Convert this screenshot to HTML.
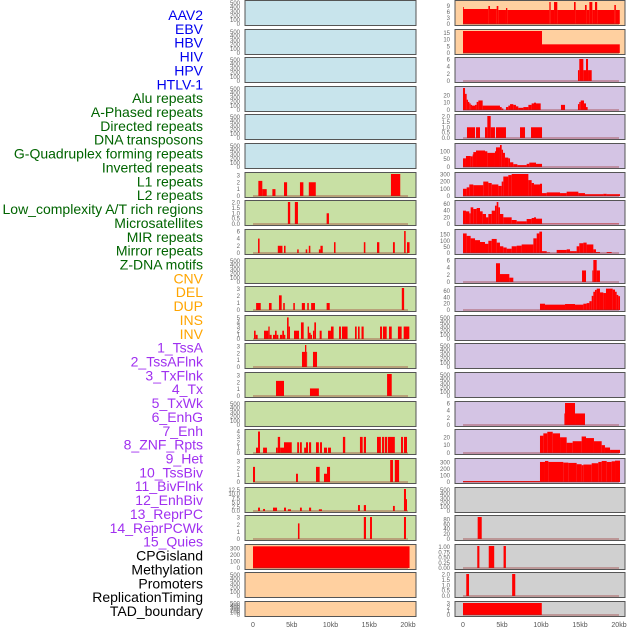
<!DOCTYPE html>
<html><head><meta charset="utf-8"><style>
body{margin:0;background:#fff;}
svg{display:block;font-family:"Liberation Sans",sans-serif;}
</style></head><body>
<svg id="c" width="630" height="630"></svg>
<script>
const labels = ["AAV2","EBV","HBV","HIV","HPV","HTLV-1","Alu repeats","A-Phased repeats","Directed repeats","DNA transposons","G-Quadruplex forming repeats","Inverted repeats","L1 repeats","L2 repeats","Low_complexity A/T rich regions","Microsatellites","MIR repeats","Mirror repeats","Z-DNA motifs","CNV","DEL","DUP","INS","INV","1_TssA","2_TssAFlnk","3_TxFlnk","4_Tx","5_TxWk","6_EnhG","7_Enh","8_ZNF_Rpts","9_Het","10_TssBiv","11_BivFlnk","12_EnhBiv","13_ReprPC","14_ReprPCWk","15_Quies","CPGisland","Methylation","Promoters","ReplicationTiming","TAD_boundary"];
const labelColors = ["#0000ee","#0000ee","#0000ee","#0000ee","#0000ee","#0000ee","#006400","#006400","#006400","#006400","#006400","#006400","#006400","#006400","#006400","#006400","#006400","#006400","#006400","#ffa500","#ffa500","#ffa500","#ffa500","#ffa500","#a030f0","#a030f0","#a030f0","#a030f0","#a030f0","#a030f0","#a030f0","#a030f0","#a030f0","#a030f0","#a030f0","#a030f0","#a030f0","#a030f0","#a030f0","#000","#000","#000","#000","#000"];
const xTicks = [0,5,10,15,20];
const xTickLabels = ["0","5kb","10kb","15kb","20kb"];
const EMPTY_T = [0,100,200,300,400,500];
const leftBg = ["b","b","b","b","b","b","g","g","g","g","g","g","g","g","g","g","g","g","g","o","o","o"];
const leftTicks = [EMPTY_T,EMPTY_T,EMPTY_T,EMPTY_T,EMPTY_T,EMPTY_T,[0,1,2,3],[0,0.5,1,1.5,2],[0,2,4,6],EMPTY_T,[0,1,2,3],[0,1,2,3,4,5],[0,1,2,3],[0,1,2,3],EMPTY_T,[0,1,2,3,4],[0,1,2,3],[0,2.5,5,7.5,10,12.5],[0,1,2,3],[0,100,200,300],EMPTY_T,EMPTY_T];
const leftMax = [520,520,520,520,520,520,3.2,2.05,6.1,520,3.15,5.3,3.2,3.2,520,4.1,3.2,13,3.1,340,520,520];
const leftSegs = [[],[],[],[],[],[],
[[0.69,1.2,2.2],[1.2,1.77,1],[2.5,2.9,1],[4.0,4.4,2],[6.06,6.5,2],[7.2,8.1,2],[17.8,19.0,3.2]],
[[4.5,4.8,2.05],[5.4,5.8,2.05],[9.5,9.8,1]],
[[0.65,0.85,4],[3.2,3.8,2],[4.0,4.2,2],[5.7,5.9,1],[6.8,7.0,1],[7.2,7.4,2],[8.5,8.7,1],[8.7,9.0,2],[10.45,10.65,3],[14.3,14.5,3],[16.0,16.3,3],[18.06,18.3,3],[19.5,19.7,6.1],[19.87,20.2,3]],
[],
[[0.4,1.0,1],[2.06,2.4,1],[3.35,3.7,2.1],[3.9,4.1,1],[5.2,5.4,1],[6.3,6.7,1],[7.0,7.2,1],[7.5,8.0,1],[9.5,9.9,1],[19.2,19.5,3.15]],
[[0.13,0.34,2],[0.34,0.6,1],[1.42,1.98,2],[1.98,2.15,3],[2.15,2.41,1],[2.58,2.84,1],[2.84,3.05,2],[3.05,3.27,1],[3.48,3.78,1],[3.78,4.0,2],[4.0,4.17,1],[4.39,4.6,5.2],[4.6,4.77,3],[5.29,5.94,2],[6.19,6.54,4],[7.05,7.23,3],[7.23,7.44,1.5],[7.44,7.61,1],[7.74,7.91,2],[7.91,8.13,4],[8.6,8.86,2],[9.68,10.06,2],[10.06,10.4,3],[11.1,11.35,3],[11.48,12.2,3],[13.16,13.38,3],[13.55,13.76,3],[14.0,14.28,3],[16.39,16.65,3],[16.77,17.25,3],[17.55,17.9,3],[18.7,19.18,3],[19.44,20.17,3]],
[[6.32,6.71,2.2],[6.71,6.88,3.2],[6.88,6.97,2.2],[7.74,8.26,2.2]],
[[2.97,4.0,2.2],[7.35,8.5,1.1],[17.3,17.9,3.2]],
[],
[[0.39,0.65,1],[0.65,0.9,4],[1.3,1.8,1],[2.97,3.2,1],[3.2,3.5,3],[3.5,4.0,1],[4.0,5.0,2],[5.7,5.94,2],[6.06,6.3,2],[6.6,6.84,1],[6.84,7.1,2],[7.23,7.5,2],[8.13,8.5,2],[8.65,8.9,2],[9.16,9.55,1],[9.68,10.06,1],[11.6,11.9,3],[13.8,14.15,3],[14.3,14.58,3],[16.0,16.5,3],[16.65,16.9,3],[17.0,17.3,3],[17.4,18.3,3],[19.1,19.35,3],[19.48,19.87,3]],
[[0,0.26,2.2],[5.55,5.8,1.2],[8.13,8.6,2.2],[9.16,9.55,1.2],[9.55,9.94,2.2],[17.7,18.06,3.2],[18.3,18.85,3.2]],
[[0.65,0.9,2],[1.3,1.55,1.2],[2.58,3.1,2],[4.0,4.26,2],[4.5,4.9,1],[6.06,6.3,2],[7.23,7.5,2],[8.5,8.9,1],[13.55,13.8,3.5],[14.3,14.58,3.5],[18.06,18.3,3],[19.48,19.74,13],[19.74,19.87,7]],
[[5.8,6.0,2.2],[14.3,14.58,3.1],[15.1,15.35,3.1],[19.48,19.74,3.1]],
[[0,20.2,335]],
[],[]];
const rightBg = ["o","o","p","p","p","p","p","p","p","p","p","p","p","p","p","p","p","k","k","k","k","k"];
const rightTicks = [[0,3,6,9],[0,5,10,15],[0,2,4,6],[0,10,20],[0,0.5,1,1.5,2],[0,50,100],[0,100,200,300],[0,20,40,60],[0,50,100,150],[0,2,4,6],[0,20,40,60],EMPTY_T,EMPTY_T,EMPTY_T,[0,2,4,6],[0,10,20],[0,100,200,300],EMPTY_T,[0,20,40,60,80],[0,0.25,0.5,0.75,1],[0,0.5,1,1.5,2],[0,1,2,3]];
const rightMax = [11,16.5,6.1,30,2.05,140,305,66,180,6.1,70,520,520,520,6.1,28,340,520,90,1.05,2.05,3.1];
const rightSegs = [
[[0,0.04,8.5],[0.04,3.25,7.5],[3.25,3.46,9],[3.46,4.32,7.5],[4.32,4.53,9],[4.53,5.51,7],[5.51,5.68,8],[5.68,11.07,7],[11.07,11.24,11],[11.24,11.67,7],[11.67,12.09,11],[12.09,14.23,7],[14.23,14.44,11],[14.44,15.64,7],[15.64,15.85,9.5],[15.85,16.2,7],[16.2,16.58,11],[16.58,16.92,7],[16.92,17.2,11],[17.2,19.4,7],[19.4,19.6,9.5],[19.6,20.1,7]],
[[0,10.13,16.5],[10.13,20.1,6.5]],
[[14.74,14.91,3],[14.91,15.43,6.1],[15.43,15.77,3],[15.77,16.03,6.1],[16.03,16.5,3]],
[[0,0.26,30],[0.26,0.47,22],[0.47,0.64,14],[0.64,0.81,11],[0.81,0.98,9],[0.98,1.15,7],[1.15,1.54,6],[1.54,1.75,7],[1.75,1.97,11],[1.97,2.52,13],[2.52,4.74,6],[4.74,4.96,4],[4.96,5.17,2],[5.51,5.81,4],[5.81,6.03,6],[6.03,6.45,8],[6.45,6.79,7],[6.79,7.09,5],[7.09,7.74,3],[7.74,8.38,4],[8.38,8.8,7],[8.8,9.1,9],[9.1,9.36,10],[9.36,9.96,9],[12.56,13.08,7],[14.74,14.91,8],[14.91,15.09,11],[15.09,15.51,13],[15.51,15.77,9],[15.77,15.98,4]],
[[0.51,1.54,1],[1.67,2.18,1],[2.82,3.12,1],[3.12,3.55,2.05],[3.55,4.1,1],[4.23,5.51,1],[7.31,7.95,1],[8.72,10.13,1]],
[[0,0.38,55],[0.38,0.98,70],[0.98,1.24,68],[1.24,1.32,80],[1.32,1.67,95],[1.67,2.82,105],[2.82,3.12,100],[3.12,4.1,90],[4.1,4.23,100],[4.23,4.74,125],[4.74,4.96,140],[4.96,5.13,110],[5.13,5.38,90],[5.38,5.81,60],[5.81,6.03,55],[6.03,6.45,30],[6.45,6.97,18],[6.97,8.16,12],[8.16,8.5,20],[8.5,9.36,28],[9.36,10.13,20]],
[[0,0.47,100],[0.47,0.81,120],[0.81,1.32,160],[1.32,2.6,150],[2.6,3.25,200],[3.25,3.68,180],[3.68,4.53,160],[4.53,4.96,140],[4.96,5.17,200],[5.17,5.81,270],[5.81,6.24,290],[6.24,8.38,305],[8.38,8.8,220],[8.8,9.1,180],[9.1,9.87,160],[9.87,10.13,170],[10.13,10.73,40],[10.73,12.44,50],[12.44,13.29,40],[13.29,14.79,60],[14.79,15.64,40],[15.64,17.99,25],[17.99,18.42,30],[18.42,20.13,25]],
[[0,0.38,40],[0.38,0.81,38],[0.81,0.98,32],[0.98,1.32,50],[1.32,1.75,45],[1.75,2.18,48],[2.18,2.52,38],[2.52,2.95,30],[2.95,3.25,20],[3.25,3.68,30],[3.68,4.1,40],[4.1,4.32,55],[4.32,4.53,66],[4.53,4.74,50],[4.74,5.17,30],[5.17,6.24,20],[6.24,6.88,12],[6.88,8.16,8],[8.16,8.8,15],[8.8,9.1,18],[9.1,9.36,20],[9.36,10.13,16],[10.13,20.0,1]],
[[0,0.47,160],[0.47,0.98,140],[0.98,1.54,120],[1.54,2.18,105],[2.18,2.82,90],[2.82,3.25,75],[3.25,3.68,100],[3.68,4.32,115],[4.32,4.74,85],[4.74,5.17,55],[5.17,5.6,45],[5.6,6.24,35],[6.24,6.88,55],[6.88,7.52,60],[7.52,9.02,70],[9.02,9.45,120],[9.45,9.79,160],[9.79,10.13,175],[10.13,10.73,15],[10.73,11.16,5],[12.01,13.29,25],[13.29,13.72,30],[13.72,14.57,15],[14.57,14.91,55],[14.91,15.43,80],[15.43,15.85,85],[15.85,16.71,70],[16.71,17.05,30],[17.05,17.56,8],[18.42,19.06,8]],
[[4.23,4.74,5.2],[4.74,5.94,2.2],[5.94,6.45,1.2],[15.26,15.77,3.2],[16.58,16.71,3.2],[16.71,17.14,6.1],[17.14,17.56,3.2]],
[[9.87,10.51,20],[10.51,13.08,17],[13.08,14.36,19],[14.36,15.43,17],[15.43,15.85,20],[15.85,16.2,22],[16.2,16.5,28],[16.5,16.71,45],[16.71,16.92,58],[16.92,17.14,64],[17.14,17.56,68],[17.56,17.99,56],[17.99,18.33,54],[18.33,19.19,68],[19.19,19.49,65],[19.49,19.7,58],[19.7,19.91,48],[19.91,20.13,44]],
[],[],[],
[[13.0,13.08,3.2],[13.08,14.36,6.1],[14.36,15.64,3.2]],
[[9.87,10.3,22],[10.3,10.81,25],[10.81,11.5,27],[11.5,12.44,25],[12.44,13.29,20],[13.29,14.06,13],[14.06,15.21,15],[15.21,15.77,21],[15.77,16.79,19],[16.79,17.78,15],[17.78,18.2,10],[18.2,18.85,7],[18.85,20.13,4]],
[[0,9.87,15],[9.87,10.51,310],[10.51,10.94,325],[10.94,12.86,310],[12.86,13.5,300],[13.5,14.57,295],[14.57,15.21,275],[15.21,15.43,260],[15.43,16.5,270],[16.5,17.35,290],[17.35,17.78,310],[17.78,18.42,325],[18.42,19.06,310],[19.06,19.49,320],[19.49,20.13,330]],
[],
[[1.88,2.4,90]],
[[1.83,2.1,1.05],[3.3,4.0,1.05],[5.2,5.5,1.05]],
[[0.42,0.77,2.05],[6.3,6.7,2.05]],
[[0,10.1,3.1]]];

const NS='http://www.w3.org/2000/svg';
const svg=document.getElementById('c');
const bgCol={b:'#c8e4ec',g:'#c8e0a4',o:'#ffd0a0',p:'#d4c4e4',k:'#d0d0d0'};
function mk(tag,attrs,parent){const e=document.createElementNS(NS,tag);for(const k in attrs)e.setAttribute(k,attrs[k]);(parent||svg).appendChild(e);return e;}
function decs(v){const s=(Math.round(v*100)/100).toString();const p=s.indexOf('.');return p<0?0:s.length-p-1;}
const PITCH=28.62;
function panelTop(i){return Math.round(i*PITCH)+0.5;}
function panelH(i){return i===21?15:25;}

labels.forEach((t,i)=>{
  const e=mk('text',{x:203,y:15+i*13.86+5,'text-anchor':'end','font-size':14,fill:labelColors[i]});
  e.textContent=t;
  
  
});

function drawCol(colName,x0,x1,xz,xe,bgs,ticks,maxs,segs){
  const xs=v=>xz+(xe-xz)*v/20;
  for(let i=0;i<22;i++){
    const top=panelTop(i),h=panelH(i),bot=top+h;
    const y0=bot-1.5,yt=top+1.5;
    const ys=v=>y0-(y0-yt)*v/maxs[i];
    const g=mk('g',{});
    
    
    mk('rect',{x:x0,y:top,width:x1-x0,height:h,fill:bgCol[bgs[i]],stroke:'#555','stroke-width':1},g);
    segs[i].forEach(s=>{
      const r=mk('rect',{x:xs(s[0]),y:ys(s[2]),width:Math.max(0.8,xs(s[1])-xs(s[0])),height:y0-ys(s[2]),fill:'#ff0000'},g);
      
      
    });
    if(segs[i].length)mk('line',{x1:xs(0),x2:xs(20),y1:y0,y2:y0,stroke:'rgba(150,40,40,0.45)','stroke-width':1.5},g);
    const nd=Math.max(...ticks[i].map(decs));
    ticks[i].forEach(t=>{
      const tx=mk('text',{x:x0-5,y:ys(t)+2,'text-anchor':'end','font-size':6,fill:'#666'},g);
      tx.textContent=t.toFixed(nd);
    });
  }
  xTicks.forEach((t,k)=>{
    const tx=mk('text',{x:xs(t),y:627,'text-anchor':'middle','font-size':7,fill:'#555'});
    tx.textContent=xTickLabels[k];
    
    
  });
}
drawCol('left',245,416,253,408,leftBg,leftTicks,leftMax,leftSegs);
drawCol('right',455,625,463,619,rightBg,rightTicks,rightMax,rightSegs);
</script>
</body></html>
